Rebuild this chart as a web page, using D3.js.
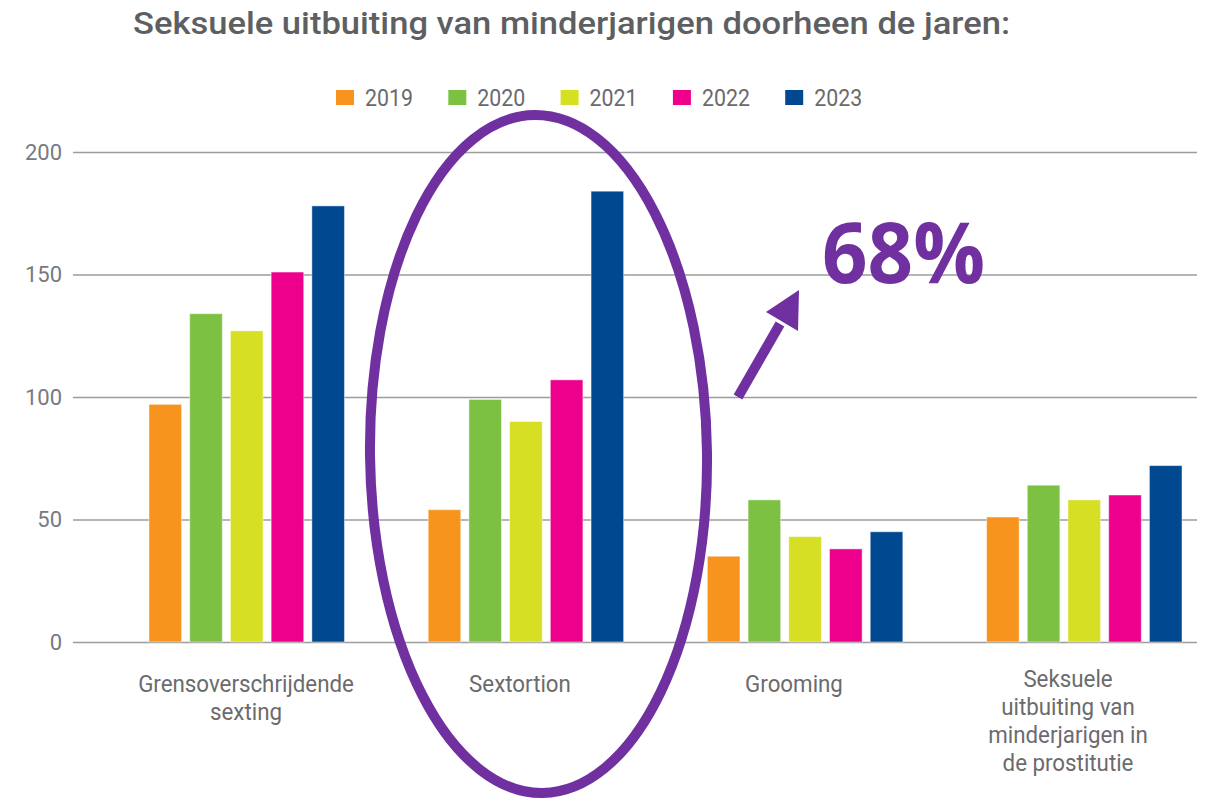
<!DOCTYPE html>
<html>
<head>
<meta charset="utf-8">
<script src="https://cdn.jsdelivr.net/npm/d3@7"></script>
<style>
  body { margin: 0; background: #fff; }
  text { font-family: Roboto, "Liberation Sans", sans-serif; }
</style>
</head>
<body>
<svg id="chart" width="1210" height="801"></svg>
<script>
// data
const categories = [
    ["Grensoverschrijdende", "sexting"],
    ["Sextortion"],
    ["Grooming"],
    ["Seksuele", "uitbuiting van", "minderjarigen in", "de prostitutie"]
];
const years = ["2019", "2020", "2021", "2022", "2023"];
const values2019 = [97, 54, 35, 51];
const values2020 = [134, 99, 58, 64];
const values2021 = [127, 90, 43, 58];
const values2022 = [151, 107, 38, 60];
const values2023 = [178, 184, 45, 72];
const yTicks = [0, 50, 100, 150, 200];
const yearColors = ["#F7941D", "#7DC142", "#D6DF23", "#EC008C", "#004990"];

const series = [values2019, values2020, values2021, values2022, values2023];
const catKeys = categories.map(c => c.join(" "));

const svg = d3.select("#chart");

const y = d3.scaleLinear().domain([0, 200]).range([642, 152]);

const x0 = d3.scaleBand()
    .domain(catKeys)
    .range([149, 1182])
    .paddingInner(0.3)
    .paddingOuter(0);

const x1 = d3.scaleBand()
    .domain(years)
    .range([0, x0.bandwidth()])
    .paddingInner(0.2);

// labels sit a bit off the bar groups in the original
const xLabel = d3.scaleBand()
    .domain(catKeys)
    .range([109, 1205]);

const color = d3.scaleOrdinal().domain(years).range(yearColors);

// title
svg.append("text")
    .attr("x", 133)
    .attr("y", 34)
    .attr("textLength", 877)
    .attr("lengthAdjust", "spacingAndGlyphs")
    .style("font-size", "32px")
    .style("font-weight", 500)
    .style("fill", "#5e5f62")
    .text("Seksuele uitbuiting van minderjarigen doorheen de jaren:");

// legend
const legend = svg.append("g").selectAll("g")
    .data(years)
    .join("g")
    .attr("transform", (d, i) => `translate(${336 + i * 112.3},90)`);
legend.append("rect")
    .attr("width", 18).attr("height", 15)
    .attr("fill", d => color(d));
legend.append("text")
    .attr("x", 29).attr("y", 16)
    .attr("textLength", 48)
    .attr("lengthAdjust", "spacingAndGlyphs")
    .style("font-size", "23px")
    .style("fill", "#6a6a6d")
    .text(d => d);

// gridlines + y labels
const yAxis = d3.axisLeft(y)
    .tickValues(yTicks)
    .tickSize(-(1197 - 73))
    .tickPadding(11);
const gy = svg.append("g")
    .attr("transform", "translate(73,0)")
    .call(yAxis);
gy.select(".domain").remove();
gy.selectAll(".tick line")
    .attr("stroke", "#9d9d9d")
    .attr("stroke-width", 1.5);
gy.selectAll(".tick text")
    .style("font-size", "22px")
    .style("font-family", "Roboto, sans-serif")
    .style("fill", "#777a80");

// bars
const groups = svg.append("g").selectAll("g")
    .data(catKeys)
    .join("g")
    .attr("transform", d => `translate(${x0(d)},0)`);

groups.selectAll("rect")
    .data((d, ci) => years.map((yr, yi) => ({ year: yr, value: series[yi][ci] })))
    .join("rect")
    .attr("x", d => x1(d.year))
    .attr("y", d => y(d.value))
    .attr("width", x1.bandwidth())
    .attr("height", d => y(0) - y(d.value))
    .attr("fill", d => color(d.year))
    .attr("stroke", "rgba(255,255,255,0.45)")
    .attr("stroke-width", 1);

// category labels (slightly condensed like the original)
const labels = svg.append("g").selectAll("text")
    .data(categories)
    .join("text")
    .attr("text-anchor", "middle")
    .attr("transform", (d, i) => {
        const yy = d.length > 2 ? 687 : 692;
        return `translate(${xLabel(catKeys[i]) + xLabel.bandwidth() / 2},${yy}) scale(0.93,1)`;
    })
    .style("font-size", "24px")
    .style("fill", "#6b6b6e");
labels.selectAll("tspan")
    .data(d => d)
    .join("tspan")
    .attr("x", 0)
    .attr("dy", (d, i) => i === 0 ? 0 : 28)
    .text(d => d);

// annotation: ellipse around Sextortion
svg.append("ellipse")
    .attr("cx", 538.5)
    .attr("cy", 454)
    .attr("rx", 168.5)
    .attr("ry", 339)
    .attr("transform", "rotate(-0.7,538.5,454)")
    .attr("fill", "none")
    .attr("stroke", "#7030A0")
    .attr("stroke-width", 10);

// arrow
svg.append("line")
    .attr("x1", 738).attr("y1", 397)
    .attr("x2", 780).attr("y2", 324)
    .attr("stroke", "#7030A0")
    .attr("stroke-width", 10);
svg.append("path")
    .attr("d", "M799,290 L766,312 L798,331 Z")
    .attr("fill", "#7030A0");

svg.append("text")
    .attr("x", 822)
    .attr("y", 283)
    .attr("textLength", 163)
    .attr("lengthAdjust", "spacingAndGlyphs")
    .style("font-family", "'Open Sans', Lato, sans-serif")
    .style("font-weight", 700)
    .style("font-size", "84px")
    .style("fill", "#7030A0")
    .text("68%");
</script>
</body>
</html>
